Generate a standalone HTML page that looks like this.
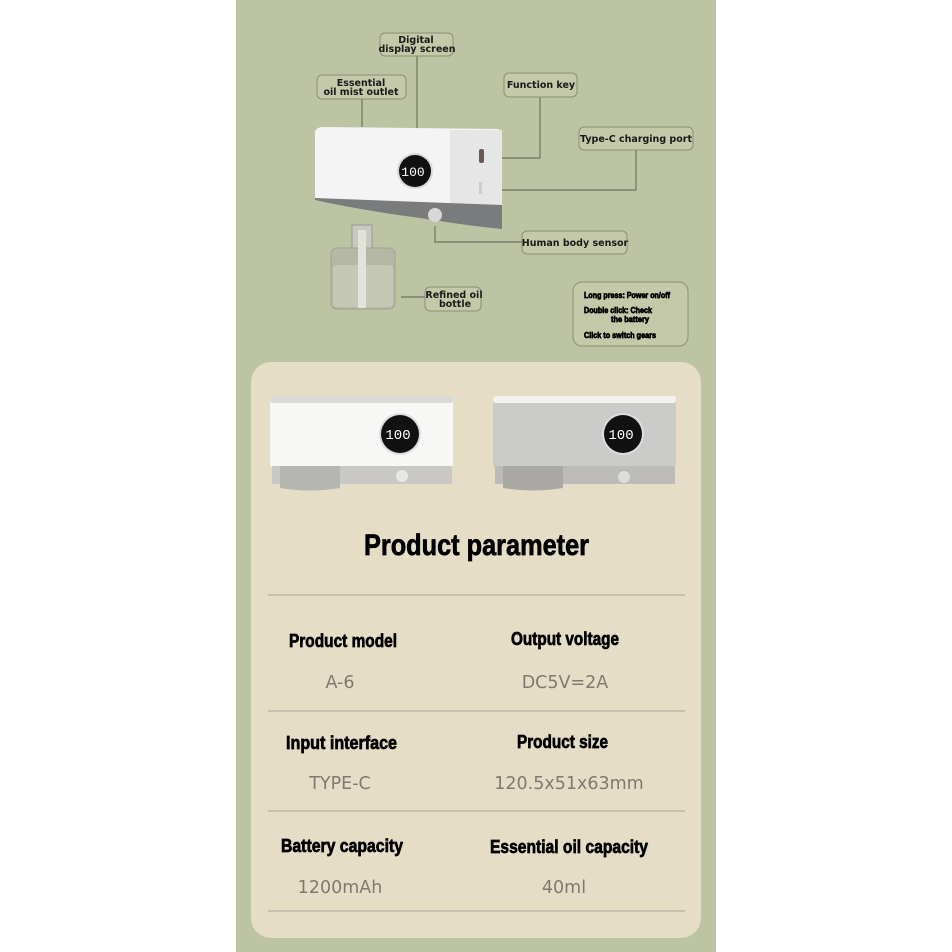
<!DOCTYPE html>
<html><head><meta charset="utf-8"><style>
html,body{margin:0;padding:0;background:#fff;}
svg{display:block;}
.lb{font-family:"DejaVu Sans","Liberation Sans",sans-serif;font-weight:bold;font-size:9.5px;fill:#1a1a1a;}
.hd{font-family:"Liberation Sans",sans-serif;font-weight:bold;fill:#000;stroke:#000;stroke-width:0.7;}
.vl{font-family:"DejaVu Sans","Liberation Sans",sans-serif;font-size:17.5px;fill:#7f7a70;}
</style></head><body>
<svg width="952" height="952" viewBox="0 0 952 952" xmlns="http://www.w3.org/2000/svg">
<rect x="0" y="0" width="952" height="952" fill="#fff"/>
<rect x="236" y="0" width="480" height="952" fill="#bdc4a3"/>
<g stroke="#6f7460" stroke-width="1.2" fill="none">
<line x1="417" y1="56" x2="417" y2="150"/>
<line x1="362" y1="99" x2="362" y2="127"/>
<polyline points="490,158 540,158 540,97"/>
<polyline points="491,190 636,190 636,150"/>
<polyline points="435,226 435,242 522,242"/>
<line x1="401" y1="297" x2="425" y2="297"/>
</g>
<g fill="#c3c9a9" stroke="#8a8f78" stroke-width="1">
<rect x="380" y="33" width="73" height="23" rx="5"/>
<rect x="317" y="75" width="89" height="24" rx="5"/>
<rect x="504" y="73" width="73" height="24" rx="5"/>
<rect x="579" y="127" width="114" height="23" rx="5"/>
<rect x="522" y="231" width="105" height="23" rx="5"/>
<rect x="425" y="287" width="56" height="24" rx="5"/>
<rect x="573" y="282" width="115" height="64" rx="9"/>
</g>
<text class="lb" x="416" y="43" text-anchor="middle">Digital</text>
<text class="lb" x="417" y="52" text-anchor="middle">display screen</text>
<text class="lb" x="361" y="86" text-anchor="middle">Essential</text>
<text class="lb" x="361" y="95" text-anchor="middle">oil mist outlet</text>
<text class="lb" x="541" y="88" text-anchor="middle">Function key</text>
<text class="lb" x="636" y="142" text-anchor="middle">Type-C charging port</text>
<text class="lb" x="575" y="246" text-anchor="middle">Human body sensor</text>
<text class="lb" x="454" y="298" text-anchor="middle">Refined oil</text>
<text class="lb" x="455" y="307" text-anchor="middle">bottle</text>
<g class="hd" font-size="8" stroke-width="0.2">
<text x="584" y="298" textLength="86" lengthAdjust="spacingAndGlyphs">Long press: Power on/off</text>
<text x="584" y="313" textLength="68" lengthAdjust="spacingAndGlyphs">Double click: Check</text>
<text x="611" y="322" textLength="38" lengthAdjust="spacingAndGlyphs">the battery</text>
<text x="584" y="338" textLength="72" lengthAdjust="spacingAndGlyphs">Click to switch gears</text>
</g>
<path d="M315 133 Q315 128 322 127 L498 129 Q502 130 502 134 L502 205 L470 205 L315 200 Z" fill="#f4f4f4"/>
<rect x="450" y="130" width="52" height="75" fill="#e6e6e6"/>
<path d="M315 198 L502 205 L502 229 Q470 226 420 218 Q360 210 315 200 Z" fill="#7a7b7d"/>
<circle cx="435" cy="215" r="7" fill="#d8d8d8"/>
<circle cx="415" cy="171" r="18" fill="#d9d9d9"/>
<circle cx="415" cy="171" r="16" fill="#111"/>
<text x="413" y="176" font-family="Liberation Mono,monospace" font-size="13" fill="#fff" text-anchor="middle">100</text>
<rect x="479" y="149" width="5" height="14" rx="2" fill="#6a5a52"/>
<rect x="479" y="182" width="3" height="12" fill="#ccc"/>
<rect x="352" y="225" width="20" height="26" fill="#c8c9c2" stroke="#999" stroke-width="1"/>
<rect x="331" y="248" width="64" height="61" rx="6" fill="#b4b8a4" stroke="#a0a394" stroke-width="1"/>
<rect x="333" y="265" width="60" height="42" rx="4" fill="#c5c8b4"/>
<rect x="358" y="230" width="8" height="78" fill="#e3e3dc"/>
<rect x="251" y="362" width="450" height="576" rx="20" fill="#e5ddc6"/>
<g>
<rect x="270" y="396" width="183" height="72" rx="4" fill="#f7f7f5"/>
<rect x="270" y="396" width="183" height="7" rx="3" fill="#d9d9d6"/>
<rect x="272" y="466" width="180" height="18" fill="#c9c8c4"/>
<path d="M280 466 h60 v22 q-30 5 -60 0 z" fill="#b5b5b2"/>
<circle cx="402" cy="476" r="6" fill="#e8e8e6"/>
<circle cx="400" cy="434" r="21" fill="#ddd"/>
<circle cx="400" cy="434" r="19" fill="#111"/>
<text x="398" y="439" font-family="Liberation Mono,monospace" font-size="14" fill="#fff" text-anchor="middle">100</text>
</g>
<g>
<rect x="493" y="396" width="183" height="72" rx="4" fill="#cbcbc9"/>
<rect x="493" y="396" width="183" height="7" rx="3" fill="#f2f2f0"/>
<rect x="495" y="466" width="180" height="18" fill="#bcbbb7"/>
<path d="M503 466 h60 v22 q-30 5 -60 0 z" fill="#aaa9a6"/>
<circle cx="624" cy="477" r="6" fill="#dcdcda"/>
<circle cx="623" cy="434" r="21" fill="#ddd"/>
<circle cx="623" cy="434" r="19" fill="#111"/>
<text x="621" y="439" font-family="Liberation Mono,monospace" font-size="14" fill="#fff" text-anchor="middle">100</text>
</g>
<text class="hd" x="364" y="555" font-size="30" stroke-width="1.2" textLength="225" lengthAdjust="spacingAndGlyphs">Product parameter</text>
<g stroke="#a8a296" stroke-width="1">
<line x1="268" y1="595" x2="685" y2="595"/>
<line x1="268" y1="711" x2="685" y2="711"/>
<line x1="268" y1="811" x2="685" y2="811"/>
<line x1="268" y1="911" x2="685" y2="911"/>
</g>
<g class="hd" font-size="18">
<text x="289" y="647" textLength="108" lengthAdjust="spacingAndGlyphs">Product model</text>
<text x="511" y="645" textLength="108" lengthAdjust="spacingAndGlyphs">Output voltage</text>
<text x="286" y="749" textLength="111" lengthAdjust="spacingAndGlyphs">Input interface</text>
<text x="517" y="748" textLength="91" lengthAdjust="spacingAndGlyphs">Product size</text>
<text x="281" y="852" textLength="122" lengthAdjust="spacingAndGlyphs">Battery capacity</text>
<text x="490" y="853" textLength="158" lengthAdjust="spacingAndGlyphs">Essential oil capacity</text>
</g>
<text class="vl" x="340" y="688" text-anchor="middle">A-6</text>
<text class="vl" x="565" y="688" text-anchor="middle">DC5V=2A</text>
<text class="vl" x="340" y="789" text-anchor="middle">TYPE-C</text>
<text class="vl" x="569" y="789" text-anchor="middle">120.5x51x63mm</text>
<text class="vl" x="340" y="893" text-anchor="middle">1200mAh</text>
<text class="vl" x="564" y="893" text-anchor="middle">40ml</text>
</svg>
</body></html>
